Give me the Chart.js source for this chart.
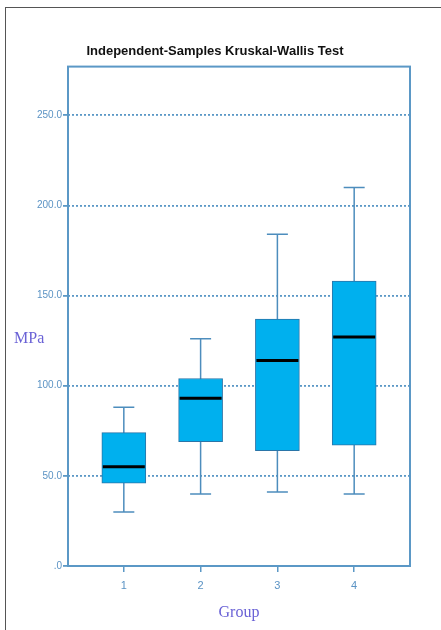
<!DOCTYPE html>
<html>
<head>
<meta charset="utf-8">
<script src="https://cdn.jsdelivr.net/npm/chart.js@4.4.1/dist/chart.umd.min.js"></script>
<style>
  html, body { margin: 0; padding: 0; background: #fff; }
  #wrap { position: relative; width: 441px; height: 630px; overflow: hidden; }
  #frame { position: absolute; left: 5px; top: 7px; width: 500px; height: 700px; border: 1px solid #555; }
  #ylab { position: absolute; left: 14px; top: 329px; font-family: "Liberation Serif", serif; font-size: 16px; color: #6a62d6; }
  canvas { position: absolute; left: 0; top: 0; }
</style>
</head>
<body>
<div id="wrap">
  <div id="frame"></div>
  <canvas id="box" width="441" height="630"></canvas>
  <div id="ylab">MPa</div>
</div>
<script>
// Werte
var groups = [1, 2, 3, 4];
var whiskerLow = [30, 40, 41, 40];
var q1 = [46, 69, 64, 67];
var median = [55, 93, 114, 127];
var q3 = [74, 104, 137, 158];
var whiskerHigh = [88, 126, 184, 210];
var yTicks = [0, 50, 100, 150, 200, 250];

var axisColor = "#5b98c6";
var narrow = "'Liberation Sans Narrow', 'Liberation Sans', sans-serif";

// Boxen als schwebende Balken
var boxData = [];
for (var i in groups) {
  boxData.push({ x: groups[i], y: [q1[i], q3[i]] });
}

// Whisker, Median und Rahmen zeichnen
var boxPlugin = {
  id: "boxExtras",
  beforeDatasetsDraw: function (chart) {
    var ctx = chart.ctx;
    var xs = chart.scales.x, ys = chart.scales.y;
    ctx.save();
    ctx.strokeStyle = "#4d8dbd";
    ctx.lineWidth = 1.5;
    for (var i in groups) {
      var x = xs.getPixelForValue(groups[i]);
      var half = 10.5;
      ctx.beginPath();
      ctx.moveTo(x, ys.getPixelForValue(whiskerLow[i]));
      ctx.lineTo(x, ys.getPixelForValue(whiskerHigh[i]));
      ctx.moveTo(x - half, ys.getPixelForValue(whiskerLow[i]));
      ctx.lineTo(x + half, ys.getPixelForValue(whiskerLow[i]));
      ctx.moveTo(x - half, ys.getPixelForValue(whiskerHigh[i]));
      ctx.lineTo(x + half, ys.getPixelForValue(whiskerHigh[i]));
      ctx.stroke();
    }
    ctx.restore();
  },
  afterDatasetsDraw: function (chart) {
    var ctx = chart.ctx;
    var ys = chart.scales.y;
    var meta = chart.getDatasetMeta(0);
    ctx.save();
    ctx.strokeStyle = "#000";
    ctx.lineWidth = 3;
    for (var i in groups) {
      var bar = meta.data[i];
      var y = ys.getPixelForValue(median[i]);
      ctx.beginPath();
      ctx.moveTo(bar.x - bar.width / 2 + 1, y);
      ctx.lineTo(bar.x + bar.width / 2 - 1, y);
      ctx.stroke();
    }
    var a = chart.chartArea;
    ctx.strokeStyle = axisColor;
    ctx.lineWidth = 2;
    ctx.strokeRect(a.left, a.top, a.right - a.left, a.bottom - a.top);
    ctx.restore();
  }
};

var ctx = document.getElementById("box");
var myChart = new Chart(ctx, {
  type: "bar",
  data: {
    datasets: [
      {
        label: "MPa",
        data: boxData,
        backgroundColor: "#00b0ee",
        borderColor: "#2a75a8",
        borderWidth: 1,
        borderSkipped: false,
        barThickness: 44
      }
    ]
  },
  plugins: [boxPlugin],
  options: {
    responsive: false,
    animation: false,
    layout: {
      padding: { left: 20, right: 31, top: 0, bottom: 0 }
    },
    plugins: {
      legend: { display: false },
      tooltip: { enabled: false },
      title: {
        display: true,
        text: "Independent-Samples Kruskal-Wallis Test",
        color: "#111",
        font: { family: narrow, size: 13, weight: "bold" },
        padding: { top: 44, bottom: 7 }
      }
    },
    scales: {
      x: {
        type: "linear",
        min: 0.273,
        max: 4.727,
        offset: false,
        afterBuildTicks: function (scale) {
          scale.ticks = groups.map(function (g) { return { value: g }; });
        },
        afterFit: function (scale) { scale.height = 64; },
        grid: {
          offset: false,
          drawOnChartArea: false,
          color: axisColor,
          lineWidth: 1.5,
          tickLength: 6
        },
        border: { display: false },
        ticks: {
          color: "#5b93c4",
          font: { family: narrow, size: 11 },
          padding: 7,
          callback: function (v) { return String(v); }
        },
        title: {
          display: true,
          text: "Group",
          color: "#6a62d6",
          font: { family: "'Liberation Serif', serif", size: 16 },
          padding: { top: 0, bottom: 8 }
        }
      },
      y: {
        min: 0,
        max: 277,
        afterBuildTicks: function (scale) {
          scale.ticks = yTicks.map(function (v) { return { value: v }; });
        },
        afterFit: function (scale) { scale.width = 48; },
        grid: {
          color: axisColor,
          lineWidth: 1.8,
          tickBorderDash: [],
          tickLength: 5
        },
        border: { display: false, dash: [2, 2] },
        ticks: {
          color: "#5b93c4",
          font: { family: narrow, size: 10 },
          padding: 1,
          callback: function (v) { return v === 0 ? ".0" : v.toFixed(1); }
        }
      }
    }
  }
});
</script>
</body>
</html>
